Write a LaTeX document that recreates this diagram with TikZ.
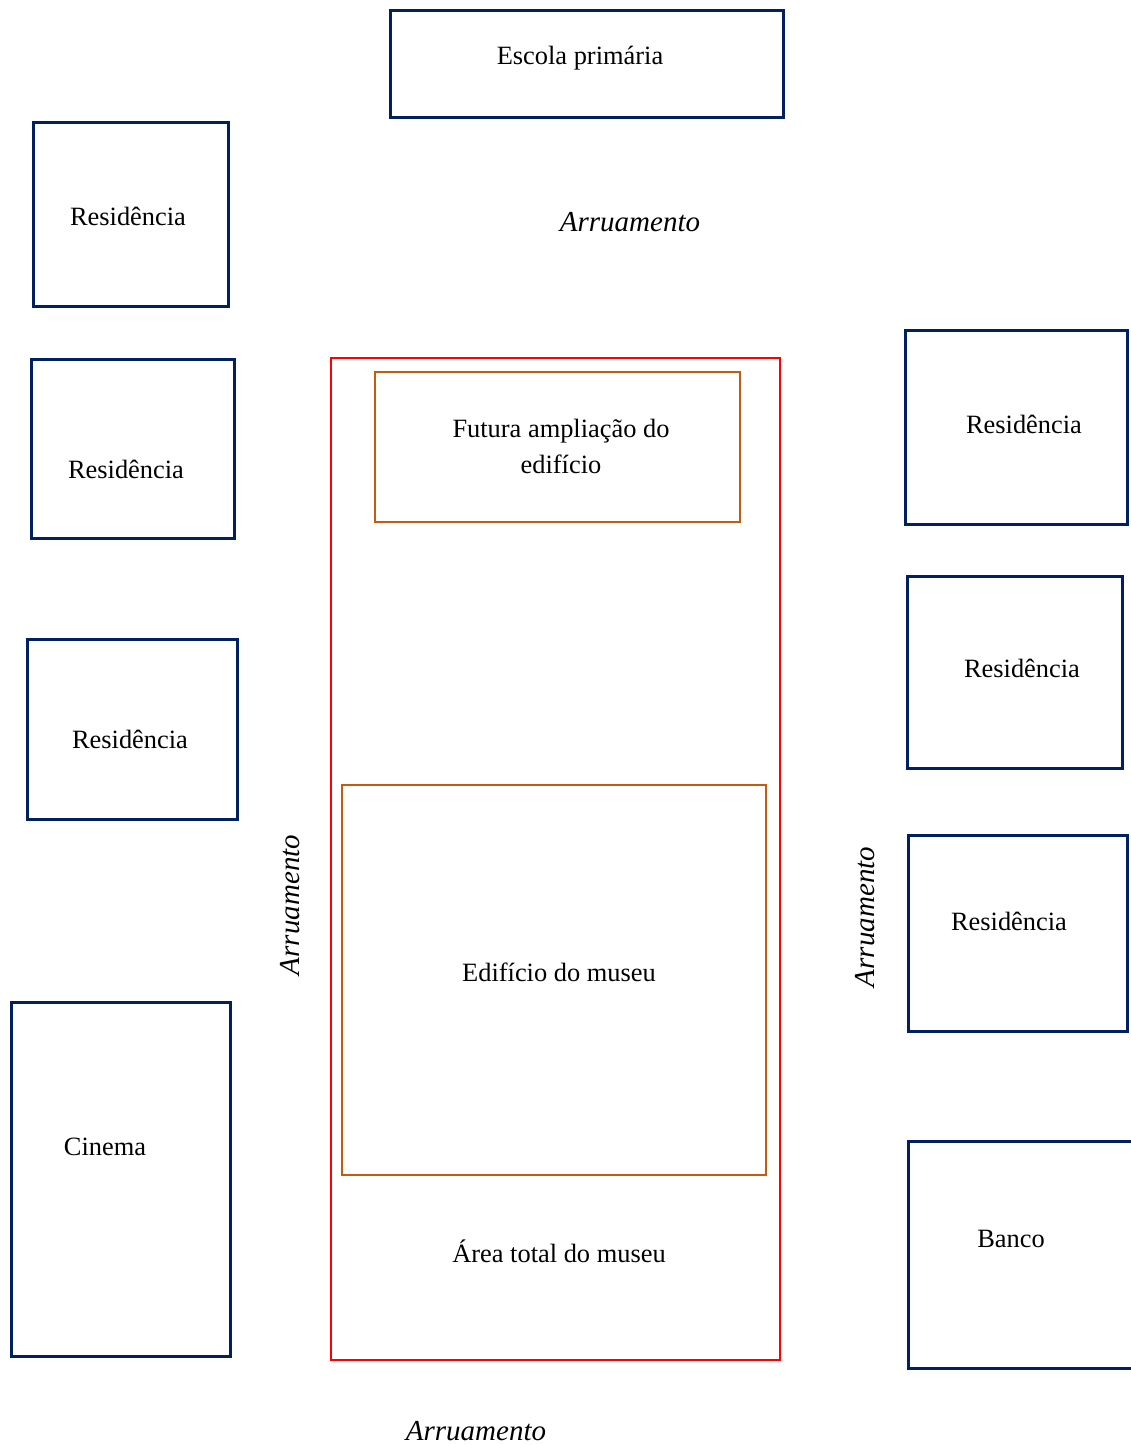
\documentclass[tikz,border=0pt]{standalone}
\usepackage{fontspec}
\setmainfont{Liberation Serif}
\usepackage{tikz}

\definecolor{navyline}{HTML}{002060}
\definecolor{orangeline}{HTML}{C55A11}

\begin{document}
\begin{tikzpicture}[x=0.5pt, y=-0.5pt,
	predio/.style={draw=navyline, line width=1.5pt},
	areamuseu/.style={draw=red, line width=1.1pt},
	bloco/.style={draw=orangeline, line width=1.35pt},
	rotulo/.style={font=\fontsize{13.2}{18}\selectfont, inner sep=0pt, align=center},
	rua/.style={font=\fontsize{14.5}{17}\selectfont\itshape, inner sep=0pt}]

	\useasboundingbox (0,0) rectangle (1130,1445);

	% edificios vizinhos
	\draw[predio] (390,11) rectangle (783,118);
	\draw[predio] (33,123) rectangle (228,306);
	\draw[predio] (31,359) rectangle (234,538);
	\draw[predio] (27,639) rectangle (237,819);
	\draw[predio] (11,1002) rectangle (230,1356);
	\draw[predio] (905,330) rectangle (1127,524);
	\draw[predio] (907,576) rectangle (1122,768);
	\draw[predio] (908,835) rectangle (1127,1031);
	\draw[predio] (908,1141) rectangle (1140,1368);

	% museu
	\draw[areamuseu] (331,358) rectangle (780,1360);
	\draw[bloco] (375,372) rectangle (740,522);
	\draw[bloco] (342,785) rectangle (766,1175);

	\node[rotulo] (escola) at (580,58)   {Escola primária};
	\node[rotulo] (resa)   at (128,216)  {Residência};
	\node[rotulo] (resb)   at (126,469)  {Residência};
	\node[rotulo] (resc)   at (130,739)  {Residência};
	\node[rotulo] (cinema) at (105,1147) {Cinema};
	\node[rotulo] (resd)   at (1024,424) {Residência};
	\node[rotulo] (rese)   at (1022,668) {Residência};
	\node[rotulo] (resf)   at (1009,921) {Residência};
	\node[rotulo] (banco)  at (1011,1239) {Banco};
	\node[rotulo] (futura) at (561,446)  {Futura ampliação do\\edifício};
	\node[rotulo] (museu)  at (559,972)  {Edifício do museu};
	\node[rotulo] (total)  at (559,1251) {Área total do museu};

	% ruas
	\node[rua] (ruacima)  at (630,222)  {Arruamento};
	\node[rua] (ruabaixo) at (476,1431) {Arruamento};
	\node[rua, rotate=90] (ruaesq) at (290,905) {Arruamento};
	\node[rua, rotate=90] (ruadir) at (865,917) {Arruamento};

\end{tikzpicture}
\end{document}
